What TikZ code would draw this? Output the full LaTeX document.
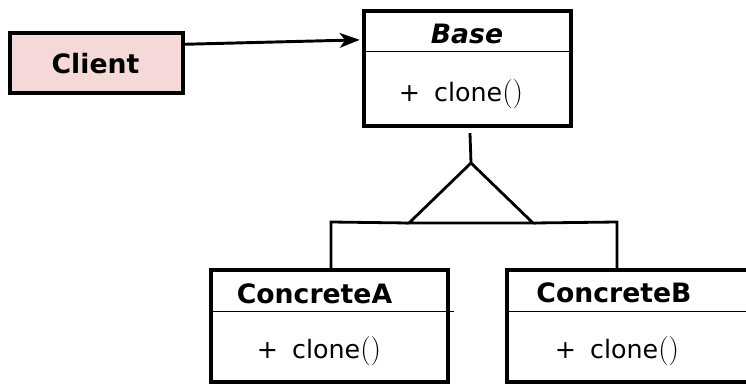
\documentclass[tikz,border=0pt]{standalone}
\usepackage{fontspec}
\usetikzlibrary{arrows.meta,calc}
\newfontfamily\dv{DejaVu Sans}
\definecolor{clientpink}{RGB}{245,217,217}
\tikzset{
  classbox/.style={draw, line width=3.3pt, inner sep=0pt, fill=white},
  clientbox/.style={draw, line width=2.6pt, inner sep=0pt, fill=clientpink},
  divider/.style={line width=1pt},
  conn/.style={line width=2.1pt},
  classname/.style={font=\dv\fontsize{20}{24}\selectfont\bfseries, anchor=base, inner sep=0pt},
  method/.style={font=\dv\fontsize{19}{23}\selectfont, anchor=base, inner sep=0pt},
}
\newcommand{\clonemeth}{+\hspace{0.55em}clone{\rmfamily\fontsize{22}{26}\selectfont()}}
\begin{document}
\begin{tikzpicture}[x=0.75pt, y=-0.75pt]
  \clip (0,0) rectangle (746,386);
  \fill[white] (0,0) rectangle (746,386);

  % client
  \node[clientbox, minimum width=129.75pt, minimum height=45pt] (Client) at (96.5,63) {};
  \node[classname] (clientlbl) at (95.5,73) {Client};

  % abstract base class
  \node[classbox, minimum width=155.25pt, minimum height=86.25pt] (Base) at (467.5,68.5) {};
  \draw[divider] ($(Base.north west)+(0,43)$) -- ($(Base.north east)+(0,43)$);
  \node[classname, font=\dv\fontsize{20}{24}\selectfont\bfseries\itshape] (basename) at (467,43) {Base};
  \node[method] (basemeth) at (461,101) {\clonemeth};

  % concrete classes
  \node[classbox, minimum width=177.75pt, minimum height=84pt] (ConcA) at (329.5,326) {};
  \draw[divider] ($(ConcA.north west)+(0,44)$) -- ($(ConcA.north east)+(4,44)$);
  \node[classname] (concaname) at (314.5,303) {ConcreteA};
  \node[method] (concameth) at (319,358) {\clonemeth};

  \node[classbox, minimum width=197.25pt, minimum height=84pt] (ConcB) at (638.5,326) {};
  \draw[divider] ($(ConcB.north west)+(0,44)$) -- ($(ConcB.north east)+(0,44)$);
  \node[classname] (concbname) at (614,302) {ConcreteB};
  \node[method] (concbmeth) at (617,358) {\clonemeth};

  % association arrow
  \draw[line width=2.2pt, -{Stealth[length=15pt, width=11pt, inset=4pt]}, shorten >=1.5pt]
    ($(Client.north east)+(0,13)$) -- ($(Base.north west)+(0,31)$);

  % inheritance triangle
  \coordinate (apex) at (471,163);
  \coordinate (tl) at (409,223);
  \coordinate (tr) at (533,223);
  \draw[conn] ($(Base.south)+(2.5,5)$) -- (apex);
  \draw[conn, line join=miter] (apex) -- (tl) -- (tr) -- cycle;
  \draw[conn] (tl) -- (331,222) -- (ConcA.north -| 331,222);
  \draw[conn] (tr) -- (617,222) -- (ConcB.north -| 617,222);
\end{tikzpicture}
\end{document}
